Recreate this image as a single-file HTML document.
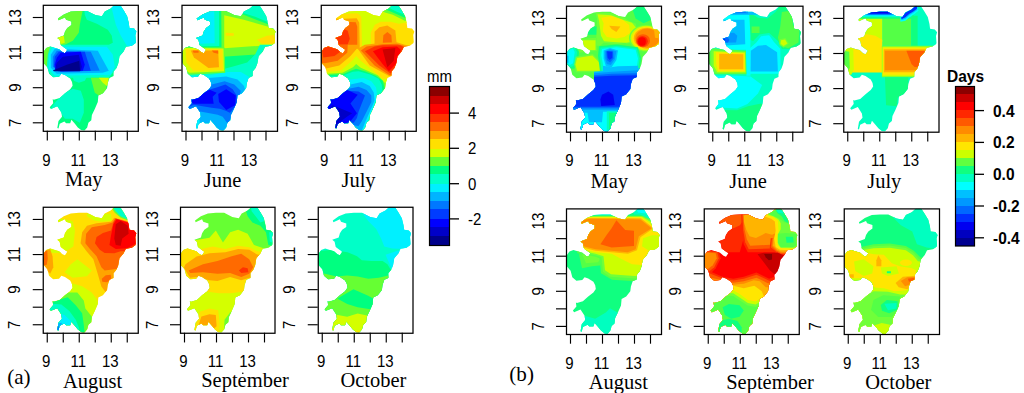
<!DOCTYPE html>
<html><head><meta charset="utf-8"><title>fig</title>
<style>
html,body{margin:0;padding:0;background:#fff;}
body{width:1024px;height:393px;overflow:hidden;position:relative;font-family:"Liberation Sans",sans-serif;}
svg{position:absolute;left:0;top:0;}
.t{font-family:"Liberation Sans",sans-serif;font-size:15px;fill:#000;}
.tb{font-family:"Liberation Sans",sans-serif;font-size:15.5px;font-weight:bold;fill:#000;}
.m{font-family:"Liberation Serif",serif;font-size:20.5px;fill:#000;}
</style></head><body>
<svg width="1024" height="393" viewBox="0 0 1024 393">
<defs><clipPath id="r"><polygon points="72,0 77.2,0 80.8,5.5 84.3,11.4 86,18.4 86.6,23.1 91.3,23.7 93.6,26.6 92.5,30.2 93,37.2 92.5,38.5 89,40.9 83.1,42 80.8,46.7 76.7,51.4 75.5,58.4 73.7,63.1 70.8,66.6 70.8,71.3 66.7,73.1 64.9,78.4 64.3,83.2 60.2,88.5 55.6,90.8 55,97.3 52,104.3 49.1,110.2 48.5,115.4 45.6,117.9 44.4,122.6 41.5,125.9 38.6,125.5 35,122.6 32.1,119 28.6,115 27.4,118.5 23.3,118.5 21.6,116.7 16.9,119 15.7,123.8 14.5,123.2 15.7,116.1 19.2,112 18.6,107.8 14.5,101.4 8.1,104.1 6.9,102.5 10.4,98.4 9.9,94.3 11,94.9 16.9,93.2 22.2,88.5 27.4,84.4 29.8,80.9 29.2,77.2 27.4,73.7 22.2,70.2 18.6,69 16.3,71.9 10.4,72.5 6.3,69 4.6,62.5 1,58.4 0,52.6 1,46.7 3.4,43.2 7.5,41.8 12.2,43.2 16.3,44.4 19.8,47.5 22.2,48.5 24.5,45 21,42.5 18,40.3 16.9,35 14.5,33.1 21,30.7 22.2,26.6 24.5,23.1 28.6,20.2 28.6,16.7 23.3,14.9 22.2,12.6 15.7,15.5 15.1,13.8 21,9.6 28,6.7 36.2,6.1 44.4,6.1 52.6,10.2 59.1,11.4 62,6.7 67.9,3.8"/></clipPath></defs>

<g transform="translate(42.8,4.8)">
<g transform="scale(1.0000,1.0000)" clip-path="url(#r)">
<rect x="0" y="0" width="95" height="126" fill="#00FF80"/>
<polygon points="0,0 41,0 39,10 37,20 36,28 30,36 20,41 0,41" fill="#66FF33"/>
<polygon points="14,31 21,31 22,38 16,40 13,36" fill="#D4FF00"/>
<polygon points="41,0 42,10 44,15 54,19 65,25 69,31 70,38 66,40 8,40 4,50 4,64 10,73 66,73 70,68 95,60 95,0" fill="#00FFC8"/>
<polygon points="0,40 8,40 5,50 4,62 0,64" fill="#66FF33"/>
<polygon points="68,0 70,8 73,20 78,31 84,41 95,46 95,0" fill="#00F0FF"/>
<polygon points="10,42 64,42 70,50 72,62 68,70 12,71 6,64 6,50" fill="#00F0FF"/>
<polygon points="12,44 55,46 66,66 60,68 14,69 8,63 8,50" fill="#00B4FF"/>
<polygon points="14,46 48,47 57,66 16,67 10,62 10,52" fill="#0078FF"/>
<polygon points="16,47 42,47 48,66 18,67 11,62 12,52" fill="#003CFF"/>
<polygon points="18,48 38,47 42,60 40,66 14,66 12,60 14,53" fill="#0000FF"/>
<polygon points="20,52 36,50 39,62 38,66 12,65 14,58" fill="#0000C8"/>
<polygon points="10,65.6 24,60 36.5,56 37.3,66.4 11,66.4" fill="#00008B"/>
<polygon points="30,72 44,72 42,76 36,78 31,76" fill="#00FFC8"/>
<polygon points="48,73 62,73 64,85 58,92 52,88" fill="#66FF33"/>
<polygon points="56,73 66,73 65,82 60,78" fill="#D4FF00"/>
<polygon points="5,108 12,98 22,88 30,84 38,86 41,95 41,108 37,118 30,114 22,114 18,108" fill="#00FFC8"/>
</g>
<rect x="0.5" y="0.5" width="95" height="126" fill="none" stroke="#000" stroke-width="1.25"/>
<line x1="4.5" y1="126" x2="4.5" y2="135.7" stroke="#000" stroke-width="1.15"/>
<line x1="20.5" y1="126" x2="20.5" y2="135.7" stroke="#000" stroke-width="1.15"/>
<line x1="36.5" y1="126" x2="36.5" y2="135.7" stroke="#000" stroke-width="1.15"/>
<line x1="52.5" y1="126" x2="52.5" y2="135.7" stroke="#000" stroke-width="1.15"/>
<line x1="68.5" y1="126" x2="68.5" y2="135.7" stroke="#000" stroke-width="1.15"/>
<line x1="84.5" y1="126" x2="84.5" y2="135.7" stroke="#000" stroke-width="1.15"/>
<text class="t" transform="translate(3.5,160.7) scale(1,1.14)" text-anchor="middle">9</text>
<text class="t" transform="translate(35.5,160.7) scale(1,1.14)" text-anchor="middle">11</text>
<text class="t" transform="translate(67.5,160.7) scale(1,1.14)" text-anchor="middle">13</text>
<line x1="-10" y1="12.70" x2="0" y2="12.70" stroke="#000" stroke-width="1.15"/>
<line x1="-10" y1="30.25" x2="0" y2="30.25" stroke="#000" stroke-width="1.15"/>
<line x1="-10" y1="47.80" x2="0" y2="47.80" stroke="#000" stroke-width="1.15"/>
<line x1="-10" y1="65.35" x2="0" y2="65.35" stroke="#000" stroke-width="1.15"/>
<line x1="-10" y1="82.90" x2="0" y2="82.90" stroke="#000" stroke-width="1.15"/>
<line x1="-10" y1="100.45" x2="0" y2="100.45" stroke="#000" stroke-width="1.15"/>
<line x1="-10" y1="118.00" x2="0" y2="118.00" stroke="#000" stroke-width="1.15"/>
<text class="t" transform="translate(-22.3,12.70) rotate(-90) scale(1,1.14)" text-anchor="middle">13</text>
<text class="t" transform="translate(-22.3,47.80) rotate(-90) scale(1,1.14)" text-anchor="middle">11</text>
<text class="t" transform="translate(-22.3,82.90) rotate(-90) scale(1,1.14)" text-anchor="middle">9</text>
<text class="t" transform="translate(-22.3,118.00) rotate(-90) scale(1,1.14)" text-anchor="middle">7</text>
</g>
<text class="m" transform="translate(83.75,186) scale(1,1.05)" text-anchor="middle">May</text>
<g transform="translate(181.5,4.8)">
<g transform="scale(1.0053,1.0000)" clip-path="url(#r)">
<rect x="0" y="0" width="95" height="126" fill="#00FF80"/>
<polygon points="58,0 95,0 95,20 84.5,16.8 73.3,12 60.5,8" fill="#00FFC8"/>
<polygon points="41,6 58,8.5 73,14.5 86,19.5 95,23 95,48 70,50 41,52" fill="#66FF33"/>
<polygon points="42.5,10.5 62,15 86.5,22 95,26 95,40 70,41.5 42.5,43.5" fill="#D4FF00"/>
<polygon points="75,35 85,31 93,30 93,39 80,39" fill="#FFE000"/>
<polygon points="44,28 52,28.5 52,31 44,31" fill="#FFE000"/>
<polygon points="43,64 54,61 65.3,57.6 73.3,49.6 78,40 95,40 95,126 0,126 0,68 30,68" fill="#00FFC8"/>
<polygon points="28.4,70.4 46,67.2 59,67.2 67,72 68.5,77 80,60 95,50 95,126 0,126 0,72" fill="#00F0FF"/>
<polygon points="30,73 44.5,71.6 55.7,74.8 62,81 63.7,86 70,100 60,126 0,126 0,75" fill="#00B4FF"/>
<polygon points="30,79.6 42.9,76.4 52.5,79.6 58.9,86 58,91 58,100 50,112 46,119 41,112 36,110 20,107 10,106 0,104 0,80" fill="#0078FF"/>
<polygon points="34.9,82.8 43.7,79.6 50.9,84.4 54.9,90.8 55,100 48,108 44,106 38,104 30,103 12,100 5,103 9,96 12,92 24,86" fill="#003CFF"/>
<polygon points="44.5,84.4 54,90.8 53.3,100.4 44.5,105.3 37.3,97.2 36.5,89.2" fill="#0000FF"/>
<polygon points="28,85 35,88 31,92 32,99 12,99 9,97 12,93" fill="#0000FF"/>
<polygon points="13,113 18,112 18,124 13,124" fill="#00F0FF"/>
<polygon points="0,0 41.5,6 42,43.5 20,44.5 0,44.5" fill="#66FF33"/>
<polygon points="0,0 39.5,0 39.8,42.8 0,43.2" fill="#00FF80"/>
<polygon points="0,0 37.3,0 37.5,41.2 0,41.8" fill="#00FFC8"/>
<polygon points="0,0 32.5,0 33,38.5 18,39 0,36" fill="#00F0FF"/>
<polygon points="0,42.5 43,43 43.5,68 8,70 0,68" fill="#66FF33"/>
<polygon points="1.5,43 41.8,43.8 42.3,66.5 8,68 1.5,64" fill="#D4FF00"/>
<polygon points="4,44.5 40.8,44.5 41.2,65 12,66 5,58" fill="#FFE000"/>
<polygon points="9.2,45.6 36.5,45.6 37.3,62.4 26.8,63.2 12.4,52.8" fill="#FFA500"/>
<polygon points="11,45.6 17,45.6 17,48 12,48" fill="#FF6A00"/>
<polygon points="30,45.6 36.5,45.6 36.5,49 32,48" fill="#FF6A00"/>
</g>
<rect x="0.5" y="0.5" width="95.5" height="126" fill="none" stroke="#000" stroke-width="1.25"/>
<line x1="4.5" y1="126" x2="4.5" y2="135.7" stroke="#000" stroke-width="1.15"/>
<line x1="20.5" y1="126" x2="20.5" y2="135.7" stroke="#000" stroke-width="1.15"/>
<line x1="36.5" y1="126" x2="36.5" y2="135.7" stroke="#000" stroke-width="1.15"/>
<line x1="52.5" y1="126" x2="52.5" y2="135.7" stroke="#000" stroke-width="1.15"/>
<line x1="68.5" y1="126" x2="68.5" y2="135.7" stroke="#000" stroke-width="1.15"/>
<line x1="84.5" y1="126" x2="84.5" y2="135.7" stroke="#000" stroke-width="1.15"/>
<text class="t" transform="translate(3.5,160.7) scale(1,1.14)" text-anchor="middle">9</text>
<text class="t" transform="translate(35.5,160.7) scale(1,1.14)" text-anchor="middle">11</text>
<text class="t" transform="translate(67.5,160.7) scale(1,1.14)" text-anchor="middle">13</text>
<line x1="-10" y1="12.70" x2="0" y2="12.70" stroke="#000" stroke-width="1.15"/>
<line x1="-10" y1="30.25" x2="0" y2="30.25" stroke="#000" stroke-width="1.15"/>
<line x1="-10" y1="47.80" x2="0" y2="47.80" stroke="#000" stroke-width="1.15"/>
<line x1="-10" y1="65.35" x2="0" y2="65.35" stroke="#000" stroke-width="1.15"/>
<line x1="-10" y1="82.90" x2="0" y2="82.90" stroke="#000" stroke-width="1.15"/>
<line x1="-10" y1="100.45" x2="0" y2="100.45" stroke="#000" stroke-width="1.15"/>
<line x1="-10" y1="118.00" x2="0" y2="118.00" stroke="#000" stroke-width="1.15"/>
<text class="t" transform="translate(-22.3,12.70) rotate(-90) scale(1,1.14)" text-anchor="middle">13</text>
<text class="t" transform="translate(-22.3,47.80) rotate(-90) scale(1,1.14)" text-anchor="middle">11</text>
<text class="t" transform="translate(-22.3,82.90) rotate(-90) scale(1,1.14)" text-anchor="middle">9</text>
<text class="t" transform="translate(-22.3,118.00) rotate(-90) scale(1,1.14)" text-anchor="middle">7</text>
</g>
<text class="m" transform="translate(222.5,186.5) scale(1,1.05)" text-anchor="middle">June</text>
<g transform="translate(320.75,4.8)">
<g transform="scale(1.0000,1.0000)" clip-path="url(#r)">
<rect x="0" y="0" width="95" height="126" fill="#FFE000"/>
<polygon points="0,0 95,0 95,19 84,18 78,19 70,17 60,17 54,20 50,28 50,40 40,42 40,14 38,12 22,11 0,12" fill="#D4FF00"/>
<polygon points="58,5 65,8 72,10 84,16 95,16 95,0 58,0" fill="#66FF33"/>
<polygon points="62,4 68,6 75,9 84,13 95,13 95,0 62,0" fill="#00FF80"/>
<polygon points="66,0 70,4 76,7 84,10 95,10 95,0" fill="#00FFC8"/>
<polygon points="0,9 20,9 37,8.5 40.5,12 41.3,42 39,45 0,46" fill="#FFE000"/>
<polygon points="0,14 24,14 36,13.5 38.5,18 39,44 0,46" fill="#FFA500"/>
<polygon points="0,17 24,17 35,17.5 36.5,22 36.5,40 30,44 0,46" fill="#FF6A00"/>
<polygon points="0,23 20,23 27,26 29,34 26,42 0,44" fill="#FF3300"/>
<polygon points="53.8,42 53.8,27 58.6,22.4 66.6,20.8 74.6,25.6 76.2,42" fill="#FFA500"/>
<polygon points="61.8,42 62.6,30.4 66.6,27.2 70.6,30.4 71.4,42" fill="#FF6A00"/>
<polygon points="37,44 44,40 62,38 76,37.5 84,40 95,42 95,73 68.2,71.3 49,60.8" fill="#FFA500"/>
<polygon points="40.2,45.6 45.8,41.6 62,39.5 76,39 83,41 95,44 95,70 69,70.4 53.8,60.8" fill="#FF6A00"/>
<polygon points="44.2,46.4 53.8,41.6 61.8,40.5 79.4,40.5 90,46 80,60 69.8,68.8 58.6,60.8" fill="#FF3300"/>
<polygon points="52.2,46.4 61.8,42.4 76.2,41.6 80,45 76.6,57.6 68.2,66.4 61.8,59.2" fill="#FF0000"/>
<polygon points="61.8,44.8 74.6,43.2 73,56 66.6,62.4" fill="#CC0000"/>
<polygon points="0,40 37,40 35.4,44.8 29.8,51.2 18.5,60.8 4.1,64 0,64" fill="#FFA500"/>
<polygon points="0,40 27,40 26.5,48 17,56 4,58.5 0,58" fill="#FF6A00"/>
<polygon points="0.9,43.2 7.3,41.6 18.5,42.4 20.1,46.4 13.7,51.2 2.5,52.8" fill="#FF3300"/>
<polygon points="5.7,67.2 20.1,65.6 31.4,56 35.4,51.2 40,56 53.8,67.2 62,74 95,76 95,126 0,126" fill="#D4FF00"/>
<polygon points="7,69 21.7,68 32.2,62.4 35.4,59.2 40,63 57,70.4 64,78 95,80 95,126 0,126" fill="#66FF33"/>
<polygon points="8,70 22,69.5 30,66 35.4,64 44,66.5 55,71 62,76 64,84 64,92 95,92 95,126 0,126" fill="#00FF80"/>
<polygon points="9,71.5 22,71 32,67 38,66.5 50,70 58,74 61,80 62,88 61,95 58,110 50,126 0,126" fill="#00FFC8"/>
<polygon points="20,73 29.7,74.8 42.6,73.2 50.6,76.4 55.4,82.8 56.2,90.8 53,102 47,116 43,126 0,126 0,76" fill="#00F0FF"/>
<polygon points="20,80 29.7,79.6 41,77.2 49,81.2 53,87.6 53.8,95.6 49,106.9 44.2,118 41,126 0,126 0,82" fill="#00B4FF"/>
<polygon points="20,84 29,83.6 37.8,82 45.8,85.2 50.6,90.8 50.6,97.2 45.8,106.9 41,116.5 37.8,121.3 30,120 0,120 0,86" fill="#0078FF"/>
<polygon points="20,86 26.5,86 37.8,86.8 44.2,90.8 41,98.8 37.8,106.9 36.2,113.3 33,118 28,118 0,120 0,88" fill="#003CFF"/>
<polygon points="26.5,85.2 37,90 29.7,98.8 36.2,108.5 29.7,116.5 15,123 0,123 0,90 20,88" fill="#0000FF"/>
<polygon points="12.1,100.4 31.4,108.5 26.5,111.7 20.1,116.5 15.3,124 10,124 8,104" fill="#0000C8"/>
</g>
<rect x="0.5" y="0.5" width="95" height="126" fill="none" stroke="#000" stroke-width="1.25"/>
<line x1="4.5" y1="126" x2="4.5" y2="135.7" stroke="#000" stroke-width="1.15"/>
<line x1="20.5" y1="126" x2="20.5" y2="135.7" stroke="#000" stroke-width="1.15"/>
<line x1="36.5" y1="126" x2="36.5" y2="135.7" stroke="#000" stroke-width="1.15"/>
<line x1="52.5" y1="126" x2="52.5" y2="135.7" stroke="#000" stroke-width="1.15"/>
<line x1="68.5" y1="126" x2="68.5" y2="135.7" stroke="#000" stroke-width="1.15"/>
<line x1="84.5" y1="126" x2="84.5" y2="135.7" stroke="#000" stroke-width="1.15"/>
<text class="t" transform="translate(3.5,160.7) scale(1,1.14)" text-anchor="middle">9</text>
<text class="t" transform="translate(35.5,160.7) scale(1,1.14)" text-anchor="middle">11</text>
<text class="t" transform="translate(67.5,160.7) scale(1,1.14)" text-anchor="middle">13</text>
<line x1="-10" y1="12.70" x2="0" y2="12.70" stroke="#000" stroke-width="1.15"/>
<line x1="-10" y1="30.25" x2="0" y2="30.25" stroke="#000" stroke-width="1.15"/>
<line x1="-10" y1="47.80" x2="0" y2="47.80" stroke="#000" stroke-width="1.15"/>
<line x1="-10" y1="65.35" x2="0" y2="65.35" stroke="#000" stroke-width="1.15"/>
<line x1="-10" y1="82.90" x2="0" y2="82.90" stroke="#000" stroke-width="1.15"/>
<line x1="-10" y1="100.45" x2="0" y2="100.45" stroke="#000" stroke-width="1.15"/>
<line x1="-10" y1="118.00" x2="0" y2="118.00" stroke="#000" stroke-width="1.15"/>
<text class="t" transform="translate(-22.3,12.70) rotate(-90) scale(1,1.14)" text-anchor="middle">13</text>
<text class="t" transform="translate(-22.3,47.80) rotate(-90) scale(1,1.14)" text-anchor="middle">11</text>
<text class="t" transform="translate(-22.3,82.90) rotate(-90) scale(1,1.14)" text-anchor="middle">9</text>
<text class="t" transform="translate(-22.3,118.00) rotate(-90) scale(1,1.14)" text-anchor="middle">7</text>
</g>
<text class="m" transform="translate(358.5,186.5) scale(1,1.05)" text-anchor="middle">July</text>
<g transform="translate(42.75,206.75)">
<g transform="scale(1.0000,1.0000)" clip-path="url(#r)">
<rect x="0" y="0" width="95" height="126" fill="#FFE000"/>
<polygon points="14.6,11 29.8,14.2 32.2,23.8 30.6,39.8 20.2,46.2 0,46 0,11" fill="#D4FF00"/>
<polygon points="44.2,7 68.3,7 69,14.2 58.6,15 50.6,13.4 44.2,9.4" fill="#D4FF00"/>
<polygon points="37.8,36.6 39.4,25.4 44.2,19 53.8,16.6 68.3,15 71.5,11 84.3,14.2 95,20 95,90 63.5,86.2 58.6,79.8 55.4,68.6 50.6,52.6 44.2,45" fill="#FFA500"/>
<polygon points="42.6,36.6 43.4,27 49,20.6 61.9,18.2 69.9,15.8 72.3,11.8 84,15 95,20 95,62 73,62.2 61.9,63.8 58.6,60.6 53.8,49.4 47,42" fill="#FF6A00"/>
<polygon points="59,72 63,68.5 68,68 68.5,73 64,75.5 59.5,75" fill="#FF6A00"/>
<polygon points="52.2,36.6 53.8,30.2 60.2,26.2 68.3,23.8 70.7,15.8 73,11.8 84,15 95,20 95,44 77.9,44.6 71.5,46.6 61.9,46.2 57,43" fill="#FF3300"/>
<polygon points="66.7,38.2 68.3,28.6 70.7,17.4 73.9,12.5 84,15.5 95,20 95,36 84.3,41.4 73,42.2" fill="#FF0000"/>
<polygon points="73,17.4 77.9,14.2 85,19 85.9,27 79.5,31.8 77.9,39 73,38.2 71.5,31.8" fill="#CC0000"/>
<polygon points="68,0 72,6 78,11 86,14 86,0" fill="#66FF33"/>
<polygon points="69.9,0 84.3,0 85,12.6 77.9,9.4 73,4.6" fill="#00FFC8"/>
<polygon points="0.2,44.6 7.4,42.2 9.8,49.4 10.6,60.6 7.4,67 4.2,63.8 0.2,55.8" fill="#FFA500"/>
<polygon points="0,45 4.5,44 5,52 4,58 0,59" fill="#FF6A00"/>
<polygon points="34.6,52.6 49,63.8 44.2,69.4 29.8,71 21.8,65.4 28.2,57.4" fill="#D4FF00"/>
<polygon points="28.2,76.2 39.4,79.4 49,85.8 53.8,92.2 56,98 95,98 95,126 0,126 0,80 20,80" fill="#D4FF00"/>
<polygon points="10,90 23.4,85.8 34.6,85.8 41,93.8 42.6,101.8 49,109.8 52,126 0,126 0,92" fill="#66FF33"/>
<polygon points="0,96 13.8,93.8 25,90.6 33,98.6 39.4,106.6 41,117.8 41.8,126 0,126" fill="#00FF80"/>
<polygon points="0,97 9,97 18.6,97.8 26.6,104.2 33,113 36.2,121 37,126 0,126" fill="#00FFC8"/>
<polygon points="10,108 15.4,106.6 21.8,108.2 28.2,114.6 30,126 0,126 0,110" fill="#00F0FF"/>
<polygon points="12,117 19,116 19,126 12,126" fill="#00B4FF"/>
<polygon points="13.5,119.5 16.5,119.5 16.5,123 13.5,123" fill="#0078FF"/>
</g>
<rect x="0.5" y="0.5" width="95" height="126" fill="none" stroke="#000" stroke-width="1.25"/>
<line x1="4.5" y1="126" x2="4.5" y2="135.7" stroke="#000" stroke-width="1.15"/>
<line x1="20.5" y1="126" x2="20.5" y2="135.7" stroke="#000" stroke-width="1.15"/>
<line x1="36.5" y1="126" x2="36.5" y2="135.7" stroke="#000" stroke-width="1.15"/>
<line x1="52.5" y1="126" x2="52.5" y2="135.7" stroke="#000" stroke-width="1.15"/>
<line x1="68.5" y1="126" x2="68.5" y2="135.7" stroke="#000" stroke-width="1.15"/>
<line x1="84.5" y1="126" x2="84.5" y2="135.7" stroke="#000" stroke-width="1.15"/>
<text class="t" transform="translate(3.5,160.7) scale(1,1.14)" text-anchor="middle">9</text>
<text class="t" transform="translate(35.5,160.7) scale(1,1.14)" text-anchor="middle">11</text>
<text class="t" transform="translate(67.5,160.7) scale(1,1.14)" text-anchor="middle">13</text>
<line x1="-10" y1="12.70" x2="0" y2="12.70" stroke="#000" stroke-width="1.15"/>
<line x1="-10" y1="30.25" x2="0" y2="30.25" stroke="#000" stroke-width="1.15"/>
<line x1="-10" y1="47.80" x2="0" y2="47.80" stroke="#000" stroke-width="1.15"/>
<line x1="-10" y1="65.35" x2="0" y2="65.35" stroke="#000" stroke-width="1.15"/>
<line x1="-10" y1="82.90" x2="0" y2="82.90" stroke="#000" stroke-width="1.15"/>
<line x1="-10" y1="100.45" x2="0" y2="100.45" stroke="#000" stroke-width="1.15"/>
<line x1="-10" y1="118.00" x2="0" y2="118.00" stroke="#000" stroke-width="1.15"/>
<text class="t" transform="translate(-22.3,12.70) rotate(-90) scale(1,1.14)" text-anchor="middle">13</text>
<text class="t" transform="translate(-22.3,47.80) rotate(-90) scale(1,1.14)" text-anchor="middle">11</text>
<text class="t" transform="translate(-22.3,82.90) rotate(-90) scale(1,1.14)" text-anchor="middle">9</text>
<text class="t" transform="translate(-22.3,118.00) rotate(-90) scale(1,1.14)" text-anchor="middle">7</text>
</g>
<text class="m" transform="translate(92.5,387.5) scale(1,1.05)" text-anchor="middle">August</text>
<g transform="translate(180,206.75)">
<g transform="scale(0.9947,1.0000)" clip-path="url(#r)">
<rect x="0" y="0" width="95" height="126" fill="#66FF33"/>
<polygon points="66.4,4.6 72.8,0 84.8,0 84.8,12.6 87.2,22.2 95,24 95,40 88.8,38.2 86.4,25.4 80.8,19 72.8,15.8 68,9.4" fill="#00FF80"/>
<polygon points="71.2,0 84,0 84.8,14.2 80.8,15.8 76,9.4 72,4.6" fill="#00FFC8"/>
<polygon points="89.6,25.4 95,25.4 95,36.6 90.4,35" fill="#00FFC8"/>
<polygon points="15,33.4 29.6,31 36,23.8 43.2,35.8 50.4,25.4 58.4,23 68,27 74.4,38.2 84,41.4 95,42 95,60 0,60 0,34" fill="#D4FF00"/>
<polygon points="0,40 10,41.5 18.3,43 32.8,39.8 45.6,42.2 58.4,39 69.6,40.6 77.6,44.6 95,46 95,90 0,90" fill="#FFE000"/>
<polygon points="3.9,61 5.5,57.4 16.7,49.8 29.6,46.5 45.6,45.4 58.4,42.2 69.6,43 77.6,47.8 95,50 95,72 69.6,71 61.6,73.4 50.4,70.2 37.6,74.2 29.6,73.4 16.7,70.2 10.3,71 7.1,66.2" fill="#FFA500"/>
<polygon points="8.7,63.8 23.1,57.4 37.6,54.2 52,49.4 61.6,47 69.6,52.6 73.6,60.6 69.6,67 61.6,70.2 50.4,66.2 37.6,67 23.1,65.4 10.3,66.2" fill="#FF6A00"/>
<polygon points="59.2,63.8 63.2,60.6 68,61.4 68.8,65.4 61.6,66.2" fill="#FF3300"/>
<polygon points="0,88 20,86 27.9,85 39.2,86.6 50.4,86.6 63.2,85 95,85 95,126 0,126" fill="#D4FF00"/>
<polygon points="13,126 16.7,114.6 19.9,105 29.6,101.8 38.4,103.4 40,117.8 39.2,126" fill="#FFE000"/>
<polygon points="18.3,119.5 21.5,109.8 29.6,107.4 36,108.2 36.8,119.4 32.8,123 29.6,116.2 26.3,119.4 19.9,119.4" fill="#FFA500"/>
<polygon points="50.4,105.8 60,100 60,126 44,126 44.8,113" fill="#66FF33"/>
</g>
<rect x="0.5" y="0.5" width="94.5" height="126" fill="none" stroke="#000" stroke-width="1.25"/>
<line x1="4.5" y1="126" x2="4.5" y2="135.7" stroke="#000" stroke-width="1.15"/>
<line x1="20.5" y1="126" x2="20.5" y2="135.7" stroke="#000" stroke-width="1.15"/>
<line x1="36.5" y1="126" x2="36.5" y2="135.7" stroke="#000" stroke-width="1.15"/>
<line x1="52.5" y1="126" x2="52.5" y2="135.7" stroke="#000" stroke-width="1.15"/>
<line x1="68.5" y1="126" x2="68.5" y2="135.7" stroke="#000" stroke-width="1.15"/>
<line x1="84.5" y1="126" x2="84.5" y2="135.7" stroke="#000" stroke-width="1.15"/>
<text class="t" transform="translate(3.5,160.7) scale(1,1.14)" text-anchor="middle">9</text>
<text class="t" transform="translate(35.5,160.7) scale(1,1.14)" text-anchor="middle">11</text>
<text class="t" transform="translate(67.5,160.7) scale(1,1.14)" text-anchor="middle">13</text>
<line x1="-10" y1="12.70" x2="0" y2="12.70" stroke="#000" stroke-width="1.15"/>
<line x1="-10" y1="30.25" x2="0" y2="30.25" stroke="#000" stroke-width="1.15"/>
<line x1="-10" y1="47.80" x2="0" y2="47.80" stroke="#000" stroke-width="1.15"/>
<line x1="-10" y1="65.35" x2="0" y2="65.35" stroke="#000" stroke-width="1.15"/>
<line x1="-10" y1="82.90" x2="0" y2="82.90" stroke="#000" stroke-width="1.15"/>
<line x1="-10" y1="100.45" x2="0" y2="100.45" stroke="#000" stroke-width="1.15"/>
<line x1="-10" y1="118.00" x2="0" y2="118.00" stroke="#000" stroke-width="1.15"/>
<text class="t" transform="translate(-22.3,12.70) rotate(-90) scale(1,1.14)" text-anchor="middle">13</text>
<text class="t" transform="translate(-22.3,47.80) rotate(-90) scale(1,1.14)" text-anchor="middle">11</text>
<text class="t" transform="translate(-22.3,82.90) rotate(-90) scale(1,1.14)" text-anchor="middle">9</text>
<text class="t" transform="translate(-22.3,118.00) rotate(-90) scale(1,1.14)" text-anchor="middle">7</text>
</g>
<text class="m" transform="translate(245,387) scale(1,1.05)" text-anchor="middle">September</text>
<g transform="translate(317.75,206.75)">
<g transform="scale(0.9974,1.0000)" clip-path="url(#r)">
<rect x="0" y="0" width="95" height="126" fill="#00FFC8"/>
<polygon points="45.8,7.8 50.6,14.2 58.6,22.2 63.5,31.8 66.7,39.8 74.7,41.7 87.5,42.2 95,38 95,0 45.8,0" fill="#00F0FF"/>
<polygon points="68,48 80,44 95,44 95,62 74,62 71,55" fill="#00F0FF"/>
<polygon points="0,45 1,44.6 13.8,43 29.8,45.4 39.4,49.4 44.2,53.4 53.8,54.2 65,54.2 69.9,57.4 73,62.7 95,62.7 95,126 0,126" fill="#00FF80"/>
<polygon points="0,65 6.2,66.7 18.9,69.8 29.5,68.8 40,69.8 50.6,72 61.2,70.9 70.7,68.8 95,68 95,126 0,126" fill="#66FF33"/>
<polygon points="21,91 35.8,82.5 50.6,88.9 55.9,92 60,96 60,103.5 52.7,102.6 40,100.5 29.5,97.3 20,92" fill="#00FF80"/>
<polygon points="0,106 18.9,107.9 29.5,110 40,106.8 50.6,109 60,109 60,126 0,126" fill="#D4FF00"/>
<polygon points="13,122 16,122 16,126 13,126" fill="#FFE000"/>
<polygon points="38,124 42,124 42,126 38,126" fill="#FFE000"/>
</g>
<rect x="0.5" y="0.5" width="94.75" height="126" fill="none" stroke="#000" stroke-width="1.25"/>
<line x1="4.5" y1="126" x2="4.5" y2="135.7" stroke="#000" stroke-width="1.15"/>
<line x1="20.5" y1="126" x2="20.5" y2="135.7" stroke="#000" stroke-width="1.15"/>
<line x1="36.5" y1="126" x2="36.5" y2="135.7" stroke="#000" stroke-width="1.15"/>
<line x1="52.5" y1="126" x2="52.5" y2="135.7" stroke="#000" stroke-width="1.15"/>
<line x1="68.5" y1="126" x2="68.5" y2="135.7" stroke="#000" stroke-width="1.15"/>
<line x1="84.5" y1="126" x2="84.5" y2="135.7" stroke="#000" stroke-width="1.15"/>
<text class="t" transform="translate(3.5,160.7) scale(1,1.14)" text-anchor="middle">9</text>
<text class="t" transform="translate(35.5,160.7) scale(1,1.14)" text-anchor="middle">11</text>
<text class="t" transform="translate(67.5,160.7) scale(1,1.14)" text-anchor="middle">13</text>
<line x1="-10" y1="12.70" x2="0" y2="12.70" stroke="#000" stroke-width="1.15"/>
<line x1="-10" y1="30.25" x2="0" y2="30.25" stroke="#000" stroke-width="1.15"/>
<line x1="-10" y1="47.80" x2="0" y2="47.80" stroke="#000" stroke-width="1.15"/>
<line x1="-10" y1="65.35" x2="0" y2="65.35" stroke="#000" stroke-width="1.15"/>
<line x1="-10" y1="82.90" x2="0" y2="82.90" stroke="#000" stroke-width="1.15"/>
<line x1="-10" y1="100.45" x2="0" y2="100.45" stroke="#000" stroke-width="1.15"/>
<line x1="-10" y1="118.00" x2="0" y2="118.00" stroke="#000" stroke-width="1.15"/>
<text class="t" transform="translate(-22.3,12.70) rotate(-90) scale(1,1.14)" text-anchor="middle">13</text>
<text class="t" transform="translate(-22.3,47.80) rotate(-90) scale(1,1.14)" text-anchor="middle">11</text>
<text class="t" transform="translate(-22.3,82.90) rotate(-90) scale(1,1.14)" text-anchor="middle">9</text>
<text class="t" transform="translate(-22.3,118.00) rotate(-90) scale(1,1.14)" text-anchor="middle">7</text>
</g>
<text class="m" transform="translate(373.4,387) scale(1,1.05)" text-anchor="middle">October</text>
<g transform="translate(566,5.7)">
<g transform="scale(1.0000,1.0000)" clip-path="url(#r)">
<rect x="0" y="0" width="95" height="126" fill="#54FF46"/>
<polygon points="21.5,20.8 34.4,20.8 34.4,29 21.5,29" fill="#10FF80"/>
<polygon points="66.4,3.2 72.8,0 84,0 84.8,14.4 77.6,17.6 69.6,12.8" fill="#10FF80"/>
<polygon points="29.5,6.5 45.6,7.2 58.4,12 66.4,17.6 68,28.8 61.6,36.9 50.4,38.5 37.6,37 34,40 30,40 31,13" fill="#70FF3A"/>
<polygon points="60,14 70,18 72,36 60,38" fill="#70FF3A"/>
<polygon points="31.5,8.5 45,9.5 57,14 66,17 70,22 70,30 66,36 60,37 50,36.5 38,35.5 35,30 33,15" fill="#CCFF00"/>
<polygon points="14,33 30,32 31,45 12,47" fill="#70FF3A"/>
<polygon points="16.7,34.6 29.5,34.6 29.5,44.2 16.7,44.2" fill="#CCFF00"/>
<polygon points="35.2,12 45.6,10.4 56.8,14.4 63.2,19.2 64,27.2 58.4,31.3 50.4,32.9 40.8,31.3 36.8,25.6 37.6,17.6" fill="#FFE600"/>
<polygon points="43.2,20 54.4,20.8 50.4,26.4 45.6,23.2" fill="#FFB400"/>
<ellipse cx="80" cy="32.5" rx="17" ry="13.5" transform="rotate(0 80 32.5)" fill="#70FF3A"/>
<ellipse cx="80.3" cy="32.5" rx="15.7" ry="12.4" transform="rotate(0 80.3 32.5)" fill="#CCFF00"/>
<ellipse cx="80.6" cy="32.5" rx="14.5" ry="11.4" transform="rotate(0 80.6 32.5)" fill="#FFE600"/>
<ellipse cx="81" cy="32.5" rx="13.2" ry="10.5" transform="rotate(0 81 32.5)" fill="#FFB400"/>
<ellipse cx="81.3" cy="32.5" rx="12" ry="9.6" transform="rotate(0 81.3 32.5)" fill="#FF8C00"/>
<polygon points="88,24 95,24 95,33 89,32" fill="#FFB400"/>
<ellipse cx="77" cy="35" rx="7" ry="6.5" transform="rotate(0 77 35)" fill="#FF5A00"/>
<ellipse cx="76.4" cy="35.5" rx="5.4" ry="5.2" transform="rotate(0 76.4 35.5)" fill="#FF2800"/>
<ellipse cx="76" cy="35.8" rx="3.9" ry="4.2" transform="rotate(0 76 35.8)" fill="#FF0000"/>
<polygon points="0,41 10,40.5 13,46 12,58 8,63 0,63" fill="#10FF80"/>
<polygon points="0,42.5 8.5,41.8 11,46.4 10,58 6,61 0,61" fill="#00FFC0"/>
<polygon points="0,44.8 7.1,43.2 8.7,46.4 7.1,57.6 3.9,59.2 0,57.6" fill="#00FFFF"/>
<polygon points="0,50 2.5,50 2.5,57 0,57" fill="#00C0FF"/>
<polygon points="9.8,51 26.8,48.4 38.2,59.8 38.2,66.5 10,66.5 8.2,58.7" fill="#70FF3A"/>
<polygon points="11.1,52.3 26.3,49.9 36.8,60.3 36.8,65.1 11.1,65.1 9.5,58.7" fill="#CCFF00"/>
<polygon points="33,40.5 50.4,38.8 72,41.5 75,52 73.5,68 34.5,69.5 32,50" fill="#10FF80"/>
<polygon points="34.5,42 50.4,40.2 70.8,42.8 73.5,52.5 72,66 36,68 33.7,50" fill="#00FFC0"/>
<polygon points="36,43.2 50.4,41.6 69.6,44 72,52.8 70.4,64 45.6,66.4 37.6,67.2 36.8,57.6 35.2,49.6" fill="#00FFFF"/>
<polygon points="37.6,44.8 44,42.4 52,44.8 50.4,54.4 45.6,61.6 40,60.8 37.6,52.8" fill="#00C0FF"/>
<polygon points="38.8,45.6 44,43.5 50.4,45.6 48.8,53.6 44.8,59.2 40.8,58.4 38.8,52" fill="#0098FF"/>
<polygon points="40,45.6 47.2,45.6 47.5,52.8 44,56.8 40.8,54.4" fill="#0068FF"/>
<polygon points="41.1,45.6 46.4,46.1 46.4,52 43.7,54.4 41.6,52" fill="#0030FF"/>
<polygon points="37,60 45,61.5 52,60.5 72,60 72,67 37,67" fill="#00C0FF"/>
<polygon points="28,66 45.6,64.5 72,62.5 95,62 95,126 0,126 0,75 28,75" fill="#00C0FF"/>
<polygon points="28,67.5 45.6,66 72,64.5 95,64 95,126 0,126 0,78 28,77" fill="#0098FF"/>
<polygon points="28,69.5 45.6,68 72,67.5 95,67 95,126 0,126 0,80 28,79" fill="#0068FF"/>
<polygon points="28,71 45.6,70 72,69.5 95,69 95,126 0,126 0,82 28,81" fill="#0030FF"/>
<polygon points="36,89 42.4,85.8 47.2,89 48.8,99.4 35.2,100.2 34.4,93.8" fill="#0000F0"/>
<polygon points="0,101 95,101 95,126 0,126" fill="#0068FF"/>
<polygon points="0,102.5 95,102.5 95,126 0,126" fill="#0098FF"/>
<polygon points="0,104 95,104 95,126 0,126" fill="#00C0FF"/>
<polygon points="0,107 21.5,107 23,116.5 36,116.5 37,106 95,106 95,126 0,126" fill="#00FFFF"/>
<polygon points="40.8,105.5 95,105.5 95,126 40.8,126" fill="#00FFC0"/>
<polygon points="43,107 95,107 95,126 43,126" fill="#10FF80"/>
</g>
<rect x="0.5" y="0.5" width="95" height="126" fill="none" stroke="#000" stroke-width="1.25"/>
<line x1="4.5" y1="126" x2="4.5" y2="135.7" stroke="#000" stroke-width="1.15"/>
<line x1="20.5" y1="126" x2="20.5" y2="135.7" stroke="#000" stroke-width="1.15"/>
<line x1="36.5" y1="126" x2="36.5" y2="135.7" stroke="#000" stroke-width="1.15"/>
<line x1="52.5" y1="126" x2="52.5" y2="135.7" stroke="#000" stroke-width="1.15"/>
<line x1="68.5" y1="126" x2="68.5" y2="135.7" stroke="#000" stroke-width="1.15"/>
<line x1="84.5" y1="126" x2="84.5" y2="135.7" stroke="#000" stroke-width="1.15"/>
<text class="t" transform="translate(3.5,160.7) scale(1,1.14)" text-anchor="middle">9</text>
<text class="t" transform="translate(35.5,160.7) scale(1,1.14)" text-anchor="middle">11</text>
<text class="t" transform="translate(67.5,160.7) scale(1,1.14)" text-anchor="middle">13</text>
<line x1="-10" y1="12.70" x2="0" y2="12.70" stroke="#000" stroke-width="1.15"/>
<line x1="-10" y1="30.25" x2="0" y2="30.25" stroke="#000" stroke-width="1.15"/>
<line x1="-10" y1="47.80" x2="0" y2="47.80" stroke="#000" stroke-width="1.15"/>
<line x1="-10" y1="65.35" x2="0" y2="65.35" stroke="#000" stroke-width="1.15"/>
<line x1="-10" y1="82.90" x2="0" y2="82.90" stroke="#000" stroke-width="1.15"/>
<line x1="-10" y1="100.45" x2="0" y2="100.45" stroke="#000" stroke-width="1.15"/>
<line x1="-10" y1="118.00" x2="0" y2="118.00" stroke="#000" stroke-width="1.15"/>
<text class="t" transform="translate(-22.3,12.70) rotate(-90) scale(1,1.14)" text-anchor="middle">13</text>
<text class="t" transform="translate(-22.3,47.80) rotate(-90) scale(1,1.14)" text-anchor="middle">11</text>
<text class="t" transform="translate(-22.3,82.90) rotate(-90) scale(1,1.14)" text-anchor="middle">9</text>
<text class="t" transform="translate(-22.3,118.00) rotate(-90) scale(1,1.14)" text-anchor="middle">7</text>
</g>
<text class="m" transform="translate(609.25,188) scale(1,1.05)" text-anchor="middle">May</text>
<g transform="translate(708.25,5.7)">
<g transform="scale(0.9921,1.0000)" clip-path="url(#r)">
<rect x="0" y="0" width="95" height="126" fill="#00FFC0"/>
<polygon points="40.5,6.4 50.1,12 59.7,12.8 67.8,6.4 72.6,0 95,0 95,43.3 74.2,43.3 70.2,35.3 61.4,27.2 51.7,28.8 45.3,35.3 41.3,33.7 40.5,20.8" fill="#10FF80"/>
<polygon points="74.2,6.4 83.8,4.8 85.4,19.2 91.8,24 91,36.9 80.6,42.5 72.6,40 70.2,32 72.6,20.8" fill="#54FF46"/>
<polygon points="43.7,20.8 51.7,20.8 51.7,27.2 43.7,27.2" fill="#54FF46"/>
<polygon points="72,33.5 77.8,32.2 81.3,37.7 76,42 71.5,38.5" fill="#70FF3A"/>
<polygon points="73.4,34.5 77.4,33.7 79.8,37.7 75.8,40.4 72.9,38.1" fill="#CCFF00"/>
<polygon points="0,0 38,0 41.5,10 42.5,30 42.5,70 38.5,70 38,44 0,44" fill="#00FFFF"/>
<polygon points="18,5.6 50,5.6 50,9 18,9.6" fill="#00C0FF"/>
<polygon points="20,5.6 40,5.6 40,7.8 20,8.2" fill="#0098FF"/>
<polygon points="26,5.6 38,5.6 38,6.9 26,7.1" fill="#0068FF"/>
<polygon points="14,14 36.5,14 37.3,38.5 14,40" fill="#00C0FF"/>
<polygon points="12,28 26,27 29.3,30 28,36.9 12,37" fill="#0098FF"/>
<polygon points="12,31.3 19,31 21.3,34 20,36.9 12,37" fill="#0068FF"/>
<polygon points="13,33 17,33 17,36 13,36" fill="#0030FF"/>
<polygon points="41.3,43 48.5,36.9 53.3,30.5 61.4,29.6 66,36 72.6,43 73,68 41.3,68" fill="#00FFFF"/>
<polygon points="42.9,45 50.1,40 58.2,39.3 69.4,46.5 70.2,65.7 42.7,65.7" fill="#00C0FF"/>
<polygon points="0,42 38,45 38.5,68.5 6,68.5 0,66" fill="#54FF46"/>
<polygon points="3,44.5 37.5,46 38,67.5 8,67.5 3,62" fill="#70FF3A"/>
<polygon points="5.5,45.5 37,46.8 37.5,66.5 9,66.5 5.5,60" fill="#CCFF00"/>
<polygon points="8,46.5 36.5,47.5 36.8,65.5 10,65.5 8,58" fill="#FFE600"/>
<polygon points="11,48 35.3,48.5 35.3,63.5 11,63.5" fill="#FFB400"/>
<polygon points="0,70 29,70 42.7,70.9 54.3,79.4 50.1,87.9 39.5,98.4 29,102.7 0,101" fill="#00FFFF"/>
<polygon points="0,104 29,104.5 40,100.5 52,98 95,98 95,126 0,126" fill="#10FF80"/>
</g>
<rect x="0.5" y="0.5" width="94.25" height="126" fill="none" stroke="#000" stroke-width="1.25"/>
<line x1="4.5" y1="126" x2="4.5" y2="135.7" stroke="#000" stroke-width="1.15"/>
<line x1="20.5" y1="126" x2="20.5" y2="135.7" stroke="#000" stroke-width="1.15"/>
<line x1="36.5" y1="126" x2="36.5" y2="135.7" stroke="#000" stroke-width="1.15"/>
<line x1="52.5" y1="126" x2="52.5" y2="135.7" stroke="#000" stroke-width="1.15"/>
<line x1="68.5" y1="126" x2="68.5" y2="135.7" stroke="#000" stroke-width="1.15"/>
<line x1="84.5" y1="126" x2="84.5" y2="135.7" stroke="#000" stroke-width="1.15"/>
<text class="t" transform="translate(3.5,160.7) scale(1,1.14)" text-anchor="middle">9</text>
<text class="t" transform="translate(35.5,160.7) scale(1,1.14)" text-anchor="middle">11</text>
<text class="t" transform="translate(67.5,160.7) scale(1,1.14)" text-anchor="middle">13</text>
<line x1="-10" y1="12.70" x2="0" y2="12.70" stroke="#000" stroke-width="1.15"/>
<line x1="-10" y1="30.25" x2="0" y2="30.25" stroke="#000" stroke-width="1.15"/>
<line x1="-10" y1="47.80" x2="0" y2="47.80" stroke="#000" stroke-width="1.15"/>
<line x1="-10" y1="65.35" x2="0" y2="65.35" stroke="#000" stroke-width="1.15"/>
<line x1="-10" y1="82.90" x2="0" y2="82.90" stroke="#000" stroke-width="1.15"/>
<line x1="-10" y1="100.45" x2="0" y2="100.45" stroke="#000" stroke-width="1.15"/>
<line x1="-10" y1="118.00" x2="0" y2="118.00" stroke="#000" stroke-width="1.15"/>
<text class="t" transform="translate(-22.3,12.70) rotate(-90) scale(1,1.14)" text-anchor="middle">13</text>
<text class="t" transform="translate(-22.3,47.80) rotate(-90) scale(1,1.14)" text-anchor="middle">11</text>
<text class="t" transform="translate(-22.3,82.90) rotate(-90) scale(1,1.14)" text-anchor="middle">9</text>
<text class="t" transform="translate(-22.3,118.00) rotate(-90) scale(1,1.14)" text-anchor="middle">7</text>
</g>
<text class="m" transform="translate(748,188) scale(1,1.05)" text-anchor="middle">June</text>
<g transform="translate(843.25,5.7)">
<g transform="scale(1.0026,1.0000)" clip-path="url(#r)">
<rect x="0" y="0" width="95" height="126" fill="#00FFC0"/>
<polygon points="38.9,12 67.8,12 67.8,40 38.9,40" fill="#54FF46"/>
<polygon points="67.8,10 74.2,10 74.2,41 67.8,41" fill="#10FF80"/>
<polygon points="0,10.5 38.9,10.5 38.9,13 0,13" fill="#70FF3A"/>
<polygon points="0,11.5 38.9,11.5 38.9,36 0,36" fill="#CCFF00"/>
<polygon points="0,34 16,30 24,28.5 32,30 38.9,34 38.9,44 41,46 41,66.7 0,66.7" fill="#FFE600"/>
<polygon points="0,42 10,43 10.5,64 8,69 0,69" fill="#CCFF00"/>
<polygon points="0,45 6,46 6.5,62 4,68 0,68" fill="#54FF46"/>
<polygon points="15,4 70,4 70,13 15,13" fill="#10FF80"/>
<polygon points="17,4 68,4 68,11.5 17,11.5" fill="#00FFC0"/>
<polygon points="18,4 67,4 67,10.5 18,10.5" fill="#00FFFF"/>
<polygon points="20,4 52,4 52,9.5 20,9.5" fill="#0098FF"/>
<polygon points="24,4 48,4 48,8.5 24,8.5" fill="#0030FF"/>
<polygon points="27,5 45,5 45,7.6 27,7.6" fill="#0000F0"/>
<polygon points="57,11 74,0 75,5 70,9 66,11.5 62,15 57,16" fill="#00FFFF"/>
<polygon points="58,11.4 72,0 74,0 74,4 70,7 66,9.5 62,13 58,14.5" fill="#00C0FF"/>
<polygon points="58,11.4 62,6.7 67.9,3.8 72,0 73.5,0 73.5,3 69.5,6 66,8 62,11.5 58,13.5" fill="#0030FF"/>
<polygon points="38.5,40 95,40 95,71.5 38.5,71.5" fill="#70FF3A"/>
<polygon points="39,41 95,41 95,70.5 39,70.5" fill="#CCFF00"/>
<polygon points="39.5,42 95,42 95,69 39.5,69" fill="#FFE600"/>
<polygon points="40.5,43.5 95,43.5 95,66.5 40.5,66.5" fill="#FFB400"/>
<polygon points="41.5,45 95,45 95,64.6 41.5,64.6" fill="#FF8C00"/>
<polygon points="63,45 95,45 95,62 71.2,61.4 68,58.3" fill="#FF5A00"/>
<polygon points="41.6,71.5 64.9,71.5 64.9,85.7 54.3,92 53.3,100.5 42.7,99.5" fill="#10FF80"/>
</g>
<rect x="0.5" y="0.5" width="95.25" height="126" fill="none" stroke="#000" stroke-width="1.25"/>
<line x1="4.5" y1="126" x2="4.5" y2="135.7" stroke="#000" stroke-width="1.15"/>
<line x1="20.5" y1="126" x2="20.5" y2="135.7" stroke="#000" stroke-width="1.15"/>
<line x1="36.5" y1="126" x2="36.5" y2="135.7" stroke="#000" stroke-width="1.15"/>
<line x1="52.5" y1="126" x2="52.5" y2="135.7" stroke="#000" stroke-width="1.15"/>
<line x1="68.5" y1="126" x2="68.5" y2="135.7" stroke="#000" stroke-width="1.15"/>
<line x1="84.5" y1="126" x2="84.5" y2="135.7" stroke="#000" stroke-width="1.15"/>
<text class="t" transform="translate(3.5,160.7) scale(1,1.14)" text-anchor="middle">9</text>
<text class="t" transform="translate(35.5,160.7) scale(1,1.14)" text-anchor="middle">11</text>
<text class="t" transform="translate(67.5,160.7) scale(1,1.14)" text-anchor="middle">13</text>
<line x1="-10" y1="12.70" x2="0" y2="12.70" stroke="#000" stroke-width="1.15"/>
<line x1="-10" y1="30.25" x2="0" y2="30.25" stroke="#000" stroke-width="1.15"/>
<line x1="-10" y1="47.80" x2="0" y2="47.80" stroke="#000" stroke-width="1.15"/>
<line x1="-10" y1="65.35" x2="0" y2="65.35" stroke="#000" stroke-width="1.15"/>
<line x1="-10" y1="82.90" x2="0" y2="82.90" stroke="#000" stroke-width="1.15"/>
<line x1="-10" y1="100.45" x2="0" y2="100.45" stroke="#000" stroke-width="1.15"/>
<line x1="-10" y1="118.00" x2="0" y2="118.00" stroke="#000" stroke-width="1.15"/>
<text class="t" transform="translate(-22.3,12.70) rotate(-90) scale(1,1.14)" text-anchor="middle">13</text>
<text class="t" transform="translate(-22.3,47.80) rotate(-90) scale(1,1.14)" text-anchor="middle">11</text>
<text class="t" transform="translate(-22.3,82.90) rotate(-90) scale(1,1.14)" text-anchor="middle">9</text>
<text class="t" transform="translate(-22.3,118.00) rotate(-90) scale(1,1.14)" text-anchor="middle">7</text>
</g>
<text class="m" transform="translate(884.25,188) scale(1,1.05)" text-anchor="middle">July</text>
<g transform="translate(566,208.4)">
<g transform="scale(1.0000,0.9968)" clip-path="url(#r)">
<rect x="0" y="0" width="95" height="126" fill="#10FF80"/>
<polygon points="9,0 60,0 60,6.6 9,6.6" fill="#00FFFF"/>
<polygon points="9,6.6 60,6.6 60,7 9,7" fill="#00FFC0"/>
<polygon points="13,46 30,44 38,50 36,57 26,58 16,60" fill="#54FF46"/>
<polygon points="16,46 30,45 35,50 32,54 20,55" fill="#70FF3A"/>
<polygon points="9,7.4 24.7,7.4 50.4,7.4 77,7.4 92,13 95,15 95,72 70,73 46,71.5 35,65 33.5,50 29.6,48.5 11.5,45 7.5,34.5" fill="#54FF46"/>
<polygon points="10,7.9 24.7,7.9 50.4,7.9 76.5,7.9 91,15 95,17 95,68 72,70.5 58,69.5 44,68.5 37,63.5 35.5,49 29.6,47 12.5,43.5 9,34.5" fill="#70FF3A"/>
<polygon points="11,8.5 24.7,8.4 50.4,8.4 76,8.4 90,17 95,19 95,62 72,68 58,67 45,66 39,62 37.5,48 29.6,45.5 13.5,42 10.5,34.5" fill="#CCFF00"/>
<polygon points="12,9.5 24.7,9 50.4,9 75.5,9 89,19 95,22 95,52 78,57 66,56 54,50 45.6,45.5 29.6,44 14.5,40.5 12,34.5" fill="#FFE600"/>
<polygon points="77,30 86,27 95,27 95,42 84,43 76,38" fill="#CCFF00"/>
<polygon points="13,10.5 24.7,9.7 50.4,9.7 75,9.8 87.5,20 74.5,29 71,42 62,45.5 45.6,44 29.6,42.4 15.5,39 13.5,34.5" fill="#FFB400"/>
<polygon points="15.1,12 24.7,10.4 50.4,10.7 74.4,11.2 85.6,20 72.8,28 69.6,40.9 61.6,44 45.6,42.5 29.6,40.9 16.7,37.7 15.1,34.5 13,24.8 13,16.8" fill="#FF8C00"/>
<polygon points="50.4,12 59.2,21.6 68,22.4 68,37.7 45.6,39.3 34.4,36 40.8,26.4 45.6,20" fill="#FF5A00"/>
<polygon points="66,0 84,0 86,12 80,9 74,6 68,6" fill="#00FFC0"/>
<polygon points="70,0 80,0 80,5 72,4" fill="#00FFFF"/>
<polygon points="0,106 18.6,107.6 29.2,110.8 39.8,104.5 44,100.2 51.4,104.5 60,104 60,126 0,126" fill="#00FFC0"/>
</g>
<rect x="0.5" y="0.5" width="95" height="125.6" fill="none" stroke="#000" stroke-width="1.25"/>
<line x1="4.5" y1="125.6" x2="4.5" y2="135.29999999999998" stroke="#000" stroke-width="1.15"/>
<line x1="20.5" y1="125.6" x2="20.5" y2="135.29999999999998" stroke="#000" stroke-width="1.15"/>
<line x1="36.5" y1="125.6" x2="36.5" y2="135.29999999999998" stroke="#000" stroke-width="1.15"/>
<line x1="52.5" y1="125.6" x2="52.5" y2="135.29999999999998" stroke="#000" stroke-width="1.15"/>
<line x1="68.5" y1="125.6" x2="68.5" y2="135.29999999999998" stroke="#000" stroke-width="1.15"/>
<line x1="84.5" y1="125.6" x2="84.5" y2="135.29999999999998" stroke="#000" stroke-width="1.15"/>
<text class="t" transform="translate(3.5,160.3) scale(1,1.14)" text-anchor="middle">9</text>
<text class="t" transform="translate(35.5,160.3) scale(1,1.14)" text-anchor="middle">11</text>
<text class="t" transform="translate(67.5,160.3) scale(1,1.14)" text-anchor="middle">13</text>
<line x1="-10" y1="12.70" x2="0" y2="12.70" stroke="#000" stroke-width="1.15"/>
<line x1="-10" y1="30.25" x2="0" y2="30.25" stroke="#000" stroke-width="1.15"/>
<line x1="-10" y1="47.80" x2="0" y2="47.80" stroke="#000" stroke-width="1.15"/>
<line x1="-10" y1="65.35" x2="0" y2="65.35" stroke="#000" stroke-width="1.15"/>
<line x1="-10" y1="82.90" x2="0" y2="82.90" stroke="#000" stroke-width="1.15"/>
<line x1="-10" y1="100.45" x2="0" y2="100.45" stroke="#000" stroke-width="1.15"/>
<line x1="-10" y1="118.00" x2="0" y2="118.00" stroke="#000" stroke-width="1.15"/>
<text class="t" transform="translate(-22.3,12.70) rotate(-90) scale(1,1.14)" text-anchor="middle">13</text>
<text class="t" transform="translate(-22.3,47.80) rotate(-90) scale(1,1.14)" text-anchor="middle">11</text>
<text class="t" transform="translate(-22.3,82.90) rotate(-90) scale(1,1.14)" text-anchor="middle">9</text>
<text class="t" transform="translate(-22.3,118.00) rotate(-90) scale(1,1.14)" text-anchor="middle">7</text>
</g>
<text class="m" transform="translate(618.4,389) scale(1,1.05)" text-anchor="middle">August</text>
<g transform="translate(703.75,208.4)">
<g transform="scale(1.0000,0.9968)" clip-path="url(#r)">
<rect x="0" y="0" width="95" height="126" fill="#FF0000"/>
<polygon points="13,4 39,4 40,30 36,44 14,44 10,30" fill="#FF2800"/>
<polygon points="15.4,13.6 20.2,8 29.8,5.6 37.8,6.4 39.4,12 36.2,16.8 29.8,20 21.8,18.4" fill="#FF5A00"/>
<polygon points="37.5,4 60.3,6.5 76,9 76,44 44,44 40,36 38,24" fill="#FF2800"/>
<polygon points="38.5,5 60.3,7.5 75,10 75,40 45,41 41.5,34 39.5,22" fill="#FF5A00"/>
<polygon points="39.4,6 60.3,8.5 74,11 74,36 46.5,37.5 43,31 40.8,21" fill="#FF8C00"/>
<polygon points="40.2,7.2 50,4 60.3,0 73.1,0 72.3,24.8 68.3,26.4 61.9,24.8 52.2,29.6 45.8,28 42.6,21.6 40.2,13.6" fill="#FFB400"/>
<polygon points="66,40 71,44 77,46.8 90,47.5 95,46 95,30 67,30" fill="#FF2800"/>
<polygon points="67,39 72,43 77,45.6 90,46.2 95,45 95,30 68,30" fill="#FF5A00"/>
<polygon points="68.5,38 72.5,42 77,44.4 90,45 95,44 95,30 69,30" fill="#FF8C00"/>
<polygon points="69.5,37 73,41 77,43.2 90,43.6 95,43 95,30 70,30" fill="#FFB400"/>
<polygon points="61,8.1 63,5 70,0 85.1,0 87.5,20 95,23 95,42.5 89.3,42.2 76.2,41.5 71.9,38.6 70.4,29.9 71.9,22.6 71.1,13.2 67.5,10.3" fill="#FFE600"/>
<polygon points="63.2,6.7 66,4 72,0.5 85,0.5 86.5,20 95,24 95,40.5 89.3,40.5 77.7,39.8 74.1,37.1 73.3,29.9 74.8,22.6 74.1,12.5 69.7,8.8" fill="#CCFF00"/>
<polygon points="64,6 68,3 73,0.8 84.7,0.8 86,19 93,23.5 95,26 95,39 89.8,39.5 77,39.5 74.5,36 74.8,25 77,21 77,15 74.6,11 69.5,8" fill="#70FF3A"/>
<polygon points="64.6,5.2 71.9,1.6 79.1,1.6 84.2,11 84.9,15.4 80.6,13.9 74.8,9.6 69,7.4" fill="#54FF46"/>
<polygon points="74.1,25.5 82,24.8 92.2,25.5 95,27 95,36 89.3,38.6 77,38.6 74.1,34.2" fill="#54FF46"/>
<polygon points="72,2 79,1.6 84,11 84.9,15 81,13 78,8 74,5" fill="#10FF80"/>
<polygon points="71.9,0.9 79.1,0.9 80.6,5.2 74.8,4.5" fill="#00FFC0"/>
<polygon points="82,28.4 89.3,28.4 90,34.2 82.8,34.5" fill="#10FF80"/>
<polygon points="53.8,46 60,44.5 74,44.5 80,47 78,60 72,67 66,62 60,54" fill="#C80000"/>
<polygon points="60.3,45.7 68.3,45.7 68.3,51.3 65,52 61.9,48.9" fill="#8B0000"/>
<polygon points="0,42 15,43 17,50 12,60 6,66 0,66" fill="#FF2800"/>
<polygon points="0,43 13.5,44 15,50 10.5,59 5,63.5 0,64" fill="#FF5A00"/>
<polygon points="0,44 12,45 13,50 9,57 4,61 0,62" fill="#FF8C00"/>
<polygon points="0,62 4.1,62.2 18.9,68.5 29.5,70.6 40,68.5 52.7,64.3 65.4,70.6 70.7,68.5 95,68 95,126 0,126" fill="#FF2800"/>
<polygon points="0,65 4.1,64.5 18.9,70.2 29.5,72.3 40,70.5 52.7,66.5 65.4,72.5 95,72 95,126 0,126" fill="#FF5A00"/>
<polygon points="0,68 18.9,72 29.5,74.5 40,73 52.7,69.5 64,75 95,75 95,126 0,126" fill="#FF8C00"/>
<polygon points="0,72 29.5,76.5 40,75.5 50,72 56,73 62,79 95,79 95,126 0,126" fill="#FFB400"/>
<polygon points="0,76 29.5,77.5 40,80 50.6,77.5 58,83 60,88 95,88 95,126 0,126" fill="#FFE600"/>
<polygon points="0,80 29.5,82 36,86 44,92 52,93.5 57,90 95,92 95,126 0,126" fill="#CCFF00"/>
<polygon points="0,84 29.5,85 36,89.5 44,95 52,96.5 56,94 95,96 95,126 0,126" fill="#70FF3A"/>
<polygon points="0,87 29.5,88 36,92.5 44,97.5 52,99 56,97 95,99 95,126 0,126" fill="#54FF46"/>
<polygon points="18.9,99.2 25.2,96 35.8,97.1 40,102.4 35.8,108.7 27.3,110.8 21,106.6" fill="#10FF80"/>
<polygon points="15.7,112.9 25.2,110.8 33.7,112.9 37.9,119.3 37.9,126 14.7,126" fill="#10FF80"/>
</g>
<rect x="0.5" y="0.5" width="95" height="125.6" fill="none" stroke="#000" stroke-width="1.25"/>
<line x1="4.5" y1="125.6" x2="4.5" y2="135.29999999999998" stroke="#000" stroke-width="1.15"/>
<line x1="20.5" y1="125.6" x2="20.5" y2="135.29999999999998" stroke="#000" stroke-width="1.15"/>
<line x1="36.5" y1="125.6" x2="36.5" y2="135.29999999999998" stroke="#000" stroke-width="1.15"/>
<line x1="52.5" y1="125.6" x2="52.5" y2="135.29999999999998" stroke="#000" stroke-width="1.15"/>
<line x1="68.5" y1="125.6" x2="68.5" y2="135.29999999999998" stroke="#000" stroke-width="1.15"/>
<line x1="84.5" y1="125.6" x2="84.5" y2="135.29999999999998" stroke="#000" stroke-width="1.15"/>
<text class="t" transform="translate(3.5,160.3) scale(1,1.14)" text-anchor="middle">9</text>
<text class="t" transform="translate(35.5,160.3) scale(1,1.14)" text-anchor="middle">11</text>
<text class="t" transform="translate(67.5,160.3) scale(1,1.14)" text-anchor="middle">13</text>
<line x1="-10" y1="12.70" x2="0" y2="12.70" stroke="#000" stroke-width="1.15"/>
<line x1="-10" y1="30.25" x2="0" y2="30.25" stroke="#000" stroke-width="1.15"/>
<line x1="-10" y1="47.80" x2="0" y2="47.80" stroke="#000" stroke-width="1.15"/>
<line x1="-10" y1="65.35" x2="0" y2="65.35" stroke="#000" stroke-width="1.15"/>
<line x1="-10" y1="82.90" x2="0" y2="82.90" stroke="#000" stroke-width="1.15"/>
<line x1="-10" y1="100.45" x2="0" y2="100.45" stroke="#000" stroke-width="1.15"/>
<line x1="-10" y1="118.00" x2="0" y2="118.00" stroke="#000" stroke-width="1.15"/>
<text class="t" transform="translate(-22.3,12.70) rotate(-90) scale(1,1.14)" text-anchor="middle">13</text>
<text class="t" transform="translate(-22.3,47.80) rotate(-90) scale(1,1.14)" text-anchor="middle">11</text>
<text class="t" transform="translate(-22.3,82.90) rotate(-90) scale(1,1.14)" text-anchor="middle">9</text>
<text class="t" transform="translate(-22.3,118.00) rotate(-90) scale(1,1.14)" text-anchor="middle">7</text>
</g>
<text class="m" transform="translate(770,389) scale(1,1.05)" text-anchor="middle">September</text>
<g transform="translate(843.75,208.4)">
<g transform="scale(1.0026,0.9968)" clip-path="url(#r)">
<rect x="0" y="0" width="95" height="126" fill="#10FF80"/>
<polygon points="49,8.8 57,16.8 68.3,23.2 73,36 82.7,39.3 95,41 95,0 49,0" fill="#00FFC0"/>
<polygon points="0,40 18.6,38.5 29.8,36 45.8,35.3 61.9,37.7 69.9,42.5 76.3,49 95,52 95,126 0,126" fill="#54FF46"/>
<polygon points="0,42 18.6,40.5 29.8,38 45.8,37.3 61.9,39.7 69.5,44.5 75,51 95,54 95,126 0,126" fill="#70FF3A"/>
<polygon points="0,43 18.6,42 29.8,40 45.8,39.5 61.9,42 69,47 74,53 95,56 95,126 0,126" fill="#CCFF00"/>
<polygon points="0,42 10,41.5 20,44 30,46 40,46.5 48,55 56,58 68,60 72,62 72,78 64,82 50,84 40,82 30,79 28,74 20,70 0,70" fill="#FFE600"/>
<ellipse cx="62" cy="54.5" rx="6" ry="3.2" transform="rotate(0 62 54.5)" fill="#FFE600"/>
<polygon points="34.5,47 37.5,52 37.5,58 32.5,58 32.5,52" fill="#FFB400"/>
<polygon points="10.3,53.3 19.9,50.9 29.6,58.1 28.4,65.4 19.9,67.8 11.5,62.9" fill="#CCFF00"/>
<polygon points="36.9,59.3 52.6,58.1 55,65.4 44.1,67.8 38.1,65.4" fill="#CCFF00"/>
<polygon points="43,63 47,63 47,65 43,65" fill="#10FF80"/>
<polygon points="51.7,74.9 59,68.5 71.7,67.5 71.7,77 63.3,81.2 54.8,79.1" fill="#FFB400"/>
<polygon points="56.9,72.8 63.3,69 71.7,68.5 70.7,74.9 61.2,78" fill="#FF8C00"/>
<polygon points="64,70.6 70.7,69.5 69.6,72.8 65,73.5" fill="#FF5A00"/>
<polygon points="6,66 10,66 10,69.5 6,69.5" fill="#FFB400"/>
<polygon points="0,93 10.4,92 18.9,85.6 27,79 40,80 50.6,83 63.3,82 72,78 95,78 95,126 0,126" fill="#CCFF00"/>
<polygon points="0,97 10.3,94.4 19.9,87.1 30,83 44.1,83.5 56.2,86.5 95,87 95,126 0,126" fill="#70FF3A"/>
<polygon points="27.2,101.6 29.6,92 39.3,87.1 56.2,88.3 55,101.6 47.7,108.9 34.4,108.9" fill="#54FF46"/>
<polygon points="36.9,96.8 42.9,92 53.8,93.2 53.8,101.6 45.3,105.3 38.1,102.8" fill="#10FF80"/>
<polygon points="40.5,95.6 52.6,94.9 52.6,100.4 44.1,102.1" fill="#00FFC0"/>
<polygon points="27.3,118.2 37.9,115 48.5,117.2 46.4,126 29.5,126" fill="#CCFF00"/>
</g>
<rect x="0.5" y="0.5" width="95.25" height="125.6" fill="none" stroke="#000" stroke-width="1.25"/>
<line x1="4.5" y1="125.6" x2="4.5" y2="135.29999999999998" stroke="#000" stroke-width="1.15"/>
<line x1="20.5" y1="125.6" x2="20.5" y2="135.29999999999998" stroke="#000" stroke-width="1.15"/>
<line x1="36.5" y1="125.6" x2="36.5" y2="135.29999999999998" stroke="#000" stroke-width="1.15"/>
<line x1="52.5" y1="125.6" x2="52.5" y2="135.29999999999998" stroke="#000" stroke-width="1.15"/>
<line x1="68.5" y1="125.6" x2="68.5" y2="135.29999999999998" stroke="#000" stroke-width="1.15"/>
<line x1="84.5" y1="125.6" x2="84.5" y2="135.29999999999998" stroke="#000" stroke-width="1.15"/>
<text class="t" transform="translate(3.5,160.3) scale(1,1.14)" text-anchor="middle">9</text>
<text class="t" transform="translate(35.5,160.3) scale(1,1.14)" text-anchor="middle">11</text>
<text class="t" transform="translate(67.5,160.3) scale(1,1.14)" text-anchor="middle">13</text>
<line x1="-10" y1="12.70" x2="0" y2="12.70" stroke="#000" stroke-width="1.15"/>
<line x1="-10" y1="30.25" x2="0" y2="30.25" stroke="#000" stroke-width="1.15"/>
<line x1="-10" y1="47.80" x2="0" y2="47.80" stroke="#000" stroke-width="1.15"/>
<line x1="-10" y1="65.35" x2="0" y2="65.35" stroke="#000" stroke-width="1.15"/>
<line x1="-10" y1="82.90" x2="0" y2="82.90" stroke="#000" stroke-width="1.15"/>
<line x1="-10" y1="100.45" x2="0" y2="100.45" stroke="#000" stroke-width="1.15"/>
<line x1="-10" y1="118.00" x2="0" y2="118.00" stroke="#000" stroke-width="1.15"/>
<text class="t" transform="translate(-22.3,12.70) rotate(-90) scale(1,1.14)" text-anchor="middle">13</text>
<text class="t" transform="translate(-22.3,47.80) rotate(-90) scale(1,1.14)" text-anchor="middle">11</text>
<text class="t" transform="translate(-22.3,82.90) rotate(-90) scale(1,1.14)" text-anchor="middle">9</text>
<text class="t" transform="translate(-22.3,118.00) rotate(-90) scale(1,1.14)" text-anchor="middle">7</text>
</g>
<text class="m" transform="translate(898.3,389) scale(1,1.05)" text-anchor="middle">October</text>
<rect x="429.5" y="86.50" width="20.0" height="9.90" fill="#8B0000" shape-rendering="crispEdges"/>
<rect x="429.5" y="96.10" width="20.0" height="8.20" fill="#CC0000" shape-rendering="crispEdges"/>
<rect x="429.5" y="104.00" width="20.0" height="9.90" fill="#FF0000" shape-rendering="crispEdges"/>
<rect x="429.5" y="113.60" width="20.0" height="8.20" fill="#FF3300" shape-rendering="crispEdges"/>
<rect x="429.5" y="121.50" width="20.0" height="9.90" fill="#FF6A00" shape-rendering="crispEdges"/>
<rect x="429.5" y="131.10" width="20.0" height="8.20" fill="#FFA500" shape-rendering="crispEdges"/>
<rect x="429.5" y="139.00" width="20.0" height="9.90" fill="#FFE000" shape-rendering="crispEdges"/>
<rect x="429.5" y="148.60" width="20.0" height="8.20" fill="#D4FF00" shape-rendering="crispEdges"/>
<rect x="429.5" y="156.50" width="20.0" height="9.90" fill="#66FF33" shape-rendering="crispEdges"/>
<rect x="429.5" y="166.10" width="20.0" height="8.20" fill="#00FF80" shape-rendering="crispEdges"/>
<rect x="429.5" y="174.00" width="20.0" height="9.90" fill="#00FFC8" shape-rendering="crispEdges"/>
<rect x="429.5" y="183.60" width="20.0" height="8.20" fill="#00F0FF" shape-rendering="crispEdges"/>
<rect x="429.5" y="191.50" width="20.0" height="9.90" fill="#00B4FF" shape-rendering="crispEdges"/>
<rect x="429.5" y="201.10" width="20.0" height="8.20" fill="#0078FF" shape-rendering="crispEdges"/>
<rect x="429.5" y="209.00" width="20.0" height="9.90" fill="#003CFF" shape-rendering="crispEdges"/>
<rect x="429.5" y="218.60" width="20.0" height="8.20" fill="#0000FF" shape-rendering="crispEdges"/>
<rect x="429.5" y="226.50" width="20.0" height="9.90" fill="#0000C8" shape-rendering="crispEdges"/>
<rect x="429.5" y="236.10" width="20.0" height="9.70" fill="#00008B" shape-rendering="crispEdges"/>
<rect x="429.5" y="86.5" width="20.0" height="159.0" fill="none" stroke="#000" stroke-width="1.2"/>
<line x1="449.5" y1="113.1" x2="459" y2="113.1" stroke="#000" stroke-width="1.3"/>
<text class="t" transform="translate(468,119.1) scale(1,1.14)">4</text>
<line x1="449.5" y1="148.3" x2="459" y2="148.3" stroke="#000" stroke-width="1.3"/>
<text class="t" transform="translate(468,154.3) scale(1,1.14)">2</text>
<line x1="449.5" y1="183.7" x2="459" y2="183.7" stroke="#000" stroke-width="1.3"/>
<text class="t" transform="translate(468,189.7) scale(1,1.14)">0</text>
<line x1="449.5" y1="218.9" x2="459" y2="218.9" stroke="#000" stroke-width="1.3"/>
<text class="t" transform="translate(468,224.9) scale(1,1.14)">-2</text>
<text class="t" transform="translate(427,82.3) scale(1,1.14)">mm</text>
<rect x="955.5" y="86.50" width="19.0" height="8.27" fill="#8B0000" shape-rendering="crispEdges"/>
<rect x="955.5" y="94.47" width="19.0" height="8.28" fill="#C80000" shape-rendering="crispEdges"/>
<rect x="955.5" y="102.45" width="19.0" height="8.27" fill="#FF0000" shape-rendering="crispEdges"/>
<rect x="955.5" y="110.42" width="19.0" height="8.28" fill="#FF2800" shape-rendering="crispEdges"/>
<rect x="955.5" y="118.40" width="19.0" height="8.27" fill="#FF5A00" shape-rendering="crispEdges"/>
<rect x="955.5" y="126.38" width="19.0" height="8.27" fill="#FF8C00" shape-rendering="crispEdges"/>
<rect x="955.5" y="134.35" width="19.0" height="8.27" fill="#FFB400" shape-rendering="crispEdges"/>
<rect x="955.5" y="142.32" width="19.0" height="8.28" fill="#FFE600" shape-rendering="crispEdges"/>
<rect x="955.5" y="150.30" width="19.0" height="8.27" fill="#CCFF00" shape-rendering="crispEdges"/>
<rect x="955.5" y="158.27" width="19.0" height="8.28" fill="#60FF40" shape-rendering="crispEdges"/>
<rect x="955.5" y="166.25" width="19.0" height="8.27" fill="#10FF80" shape-rendering="crispEdges"/>
<rect x="955.5" y="174.22" width="19.0" height="8.27" fill="#00FFC0" shape-rendering="crispEdges"/>
<rect x="955.5" y="182.20" width="19.0" height="8.28" fill="#00FFFF" shape-rendering="crispEdges"/>
<rect x="955.5" y="190.18" width="19.0" height="8.27" fill="#00C0FF" shape-rendering="crispEdges"/>
<rect x="955.5" y="198.15" width="19.0" height="8.28" fill="#0098FF" shape-rendering="crispEdges"/>
<rect x="955.5" y="206.12" width="19.0" height="8.27" fill="#0068FF" shape-rendering="crispEdges"/>
<rect x="955.5" y="214.10" width="19.0" height="8.27" fill="#0030FF" shape-rendering="crispEdges"/>
<rect x="955.5" y="222.07" width="19.0" height="8.27" fill="#0000F0" shape-rendering="crispEdges"/>
<rect x="955.5" y="230.05" width="19.0" height="8.28" fill="#0000C0" shape-rendering="crispEdges"/>
<rect x="955.5" y="238.03" width="19.0" height="8.27" fill="#000090" shape-rendering="crispEdges"/>
<rect x="955.5" y="86.5" width="19.0" height="159.5" fill="none" stroke="#000" stroke-width="1.2"/>
<line x1="974.5" y1="110.6" x2="984" y2="110.6" stroke="#000" stroke-width="1.3"/>
<text class="tb" transform="translate(993,116.6) scale(1,1.12)">0.4</text>
<line x1="974.5" y1="142.4" x2="984" y2="142.4" stroke="#000" stroke-width="1.3"/>
<text class="tb" transform="translate(993,148.4) scale(1,1.12)">0.2</text>
<line x1="974.5" y1="174.3" x2="984" y2="174.3" stroke="#000" stroke-width="1.3"/>
<text class="tb" transform="translate(993,180.3) scale(1,1.12)">0.0</text>
<line x1="974.5" y1="206" x2="984" y2="206" stroke="#000" stroke-width="1.3"/>
<text class="tb" transform="translate(993,212) scale(1,1.12)">-0.2</text>
<line x1="974.5" y1="237.8" x2="984" y2="237.8" stroke="#000" stroke-width="1.3"/>
<text class="tb" transform="translate(993,243.8) scale(1,1.12)">-0.4</text>
<text class="tb" transform="translate(947,81.8) scale(1,1.12)">Days</text>
<text class="m" transform="translate(7.2,384) scale(1.03,1.07)">(a)</text>
<text class="m" transform="translate(509.3,380.5) scale(1.03,1.07)">(b)</text>
<circle cx="242.8" cy="373.2" r="0.8" fill="#000"/><circle cx="767.8" cy="375.2" r="0.8" fill="#000"/>
</svg></body></html>
